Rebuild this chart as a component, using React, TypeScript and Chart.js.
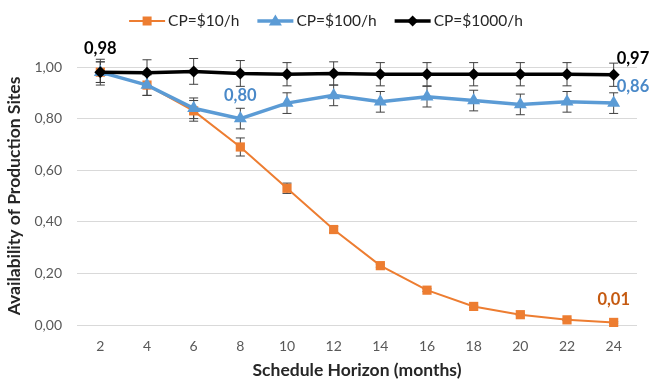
import React, { useEffect, useRef } from "react";
import { Chart, registerables } from "chart.js";

Chart.register(...registerables);

const months = ["2", "4", "6", "8", "10", "12", "14", "16", "18", "20", "22", "24"];
const cp10 = [0.98, 0.93, 0.83, 0.69, 0.53, 0.37, 0.23, 0.135, 0.072, 0.04, 0.02, 0.01];
const cp100 = [0.98, 0.93, 0.84, 0.8, 0.86, 0.89, 0.865, 0.885, 0.87, 0.855, 0.865, 0.86];
const cp1000 = [0.98, 0.978, 0.983, 0.975, 0.972, 0.975, 0.972, 0.972, 0.972, 0.972, 0.972, 0.97];
const err10 = [0.04, 0.04, 0.04, 0.035, 0.02, 0.012, 0.006, 0.005, 0.004, 0.003, 0.003, 0.003];
const err100 = [0.04, 0.04, 0.04, 0.04, 0.04, 0.04, 0.04, 0.04, 0.04, 0.04, 0.04, 0.04];
const err1000 = [0.05, 0.05, 0.05, 0.05, 0.045, 0.045, 0.045, 0.045, 0.045, 0.045, 0.045, 0.045];
const seriesNames = ["CP=$10/h", "CP=$100/h", "CP=$1000/h"];
const seriesColors = ["#ED7D31", "#5B9BD5", "#000000"];
const labelColors = ["#C55A11", "#4A89C8", "#000000"];
// [series index, point index, placement]
const valueLabels: [number, number, string][] = [
  [2, 0, "above"],
  [2, 11, "aboveRight"],
  [1, 3, "above"],
  [1, 11, "aboveRight"],
  [0, 11, "above"],
];

const fmt = (v: number) => v.toFixed(2).replace(".", ",");
const FONT = "Lato, 'Open Sans', sans-serif";

const errorBarPlugin = {
  id: "errorBars",
  beforeDatasetsDraw(chart: any) {
    const ctx = chart.ctx;
    const errs = [err10, err100, err1000];
    const y = chart.scales.y;
    ctx.save();
    ctx.strokeStyle = "#404040";
    ctx.lineWidth = 1;
    chart.data.datasets.forEach((ds: any, di: number) => {
      const meta = chart.getDatasetMeta(di);
      meta.data.forEach((pt: any, i: number) => {
        const v = ds.data[i];
        const e = errs[di][i];
        const yt = y.getPixelForValue(v + e);
        const yb = y.getPixelForValue(v - e);
        const x = pt.x;
        ctx.beginPath();
        ctx.moveTo(x, yt);
        ctx.lineTo(x, yb);
        ctx.moveTo(x - 4.5, yt);
        ctx.lineTo(x + 4.5, yt);
        ctx.moveTo(x - 4.5, yb);
        ctx.lineTo(x + 4.5, yb);
        ctx.stroke();
      });
    });
    ctx.restore();
  },
};

const valueLabelPlugin = {
  id: "valueLabels",
  afterDatasetsDraw(chart: any) {
    const ctx = chart.ctx;
    ctx.save();
    ctx.font = `bold 16.5px ${FONT}`;
    valueLabels.forEach(([si, pi, place]) => {
      const pt = chart.getDatasetMeta(si).data[pi];
      const v = chart.data.datasets[si].data[pi];
      ctx.fillStyle = labelColors[si];
      ctx.textBaseline = "middle";
      if (place === "above") {
        ctx.textAlign = "center";
        ctx.fillText(fmt(v), pt.x, pt.y - 23);
      } else {
        ctx.textAlign = "left";
        ctx.fillText(fmt(v), pt.x + 3, pt.y - 16);
      }
    });
    ctx.restore();
  },
};

const legendPlugin = {
  id: "customLegend",
  afterDraw(chart: any) {
    const ctx = chart.ctx;
    ctx.save();
    ctx.font = `15.5px ${FONT}`;
    const lineW = 36;
    const gap = 3;
    const itemGap = 18;
    const widths = seriesNames.map((n) => lineW + gap + ctx.measureText(n).width);
    const total = widths.reduce((a, b) => a + b, 0) + itemGap * (seriesNames.length - 1);
    let x = chart.width / 2 - total / 2;
    const yc = 21;
    chart.data.datasets.forEach((ds: any, i: number) => {
      ctx.strokeStyle = seriesColors[i];
      ctx.lineWidth = ds.borderWidth;
      ctx.beginPath();
      ctx.moveTo(x, yc);
      ctx.lineTo(x + lineW, yc);
      ctx.stroke();
      ctx.fillStyle = seriesColors[i];
      const cx = x + lineW / 2;
      ctx.beginPath();
      if (i === 0) {
        ctx.rect(cx - 4.5, yc - 4.5, 9, 9);
      } else if (i === 1) {
        ctx.moveTo(cx, yc - 6.5);
        ctx.lineTo(cx + 6.5, yc + 4.5);
        ctx.lineTo(cx - 6.5, yc + 4.5);
        ctx.closePath();
      } else {
        ctx.moveTo(cx, yc - 5.5);
        ctx.lineTo(cx + 5.5, yc);
        ctx.lineTo(cx, yc + 5.5);
        ctx.lineTo(cx - 5.5, yc);
        ctx.closePath();
      }
      ctx.fill();
      ctx.fillStyle = "#262626";
      ctx.textAlign = "left";
      ctx.textBaseline = "middle";
      ctx.fillText(seriesNames[i], x + lineW + gap, yc);
      x += widths[i] + itemGap;
    });
    ctx.restore();
  },
};

export default function App() {
  const ref = useRef<HTMLCanvasElement>(null);
  useEffect(() => {
    document.body.style.margin = "0";
    Chart.defaults.font.family = FONT;
    const chart = new Chart(ref.current!, {
      type: "line",
      data: {
        labels: months,
        datasets: [
          {
            label: seriesNames[0],
            data: cp10,
            borderColor: seriesColors[0],
            backgroundColor: seriesColors[0],
            borderWidth: 2,
            pointStyle: "rect",
            pointRadius: 6.5,
            pointBorderWidth: 0,
            order: 2,
            clip: false,
          },
          {
            label: seriesNames[1],
            data: cp100,
            borderColor: seriesColors[1],
            backgroundColor: seriesColors[1],
            borderWidth: 3.5,
            pointStyle: "triangle",
            pointRadius: 7.5,
            pointBorderWidth: 0,
            order: 1,
            clip: false,
          },
          {
            label: seriesNames[2],
            data: cp1000,
            borderColor: seriesColors[2],
            backgroundColor: seriesColors[2],
            borderWidth: 3.5,
            pointStyle: "rectRot",
            pointRadius: 6,
            pointBorderWidth: 0,
            order: 0,
            clip: false,
          },
        ],
      },
      options: {
        responsive: false,
        animation: false,
        layout: { padding: { top: 67, right: 15, left: 0, bottom: 0 } },
        plugins: { legend: { display: false }, tooltip: { enabled: false } },
        scales: {
          x: {
            offset: true,
            grid: { display: false, drawTicks: false },
            border: { display: false },
            ticks: { color: "#595959", font: { size: 14 }, padding: 13 },
            title: {
              display: true,
              text: "Schedule Horizon (months)",
              color: "#262626",
              font: { size: 17.5, weight: "bold" },
              padding: { top: 0, bottom: 0 },
            },
            afterFit: (s: any) => {
              s.height = 56;
            },
          },
          y: {
            min: 0,
            max: 1,
            ticks: {
              stepSize: 0.2,
              color: "#595959",
              font: { size: 14 },
              padding: 15,
              callback: (v: any) => fmt(Number(v)),
            },
            grid: { color: "#D9D9D9", lineWidth: 1, drawTicks: false },
            border: { display: false },
            title: {
              display: true,
              text: "Availability of Production Sites",
              color: "#262626",
              font: { size: 17.5, weight: "bold" },
              padding: { top: 4, bottom: 0 },
            },
            afterFit: (s: any) => {
              s.width = 77;
            },
          },
        },
      },
      plugins: [errorBarPlugin, valueLabelPlugin, legendPlugin],
    });
    return () => chart.destroy();
  }, []);
  return (
    <div style={{ width: 652, height: 381 }}>
      <canvas ref={ref} width={652} height={381} />
    </div>
  );
}
